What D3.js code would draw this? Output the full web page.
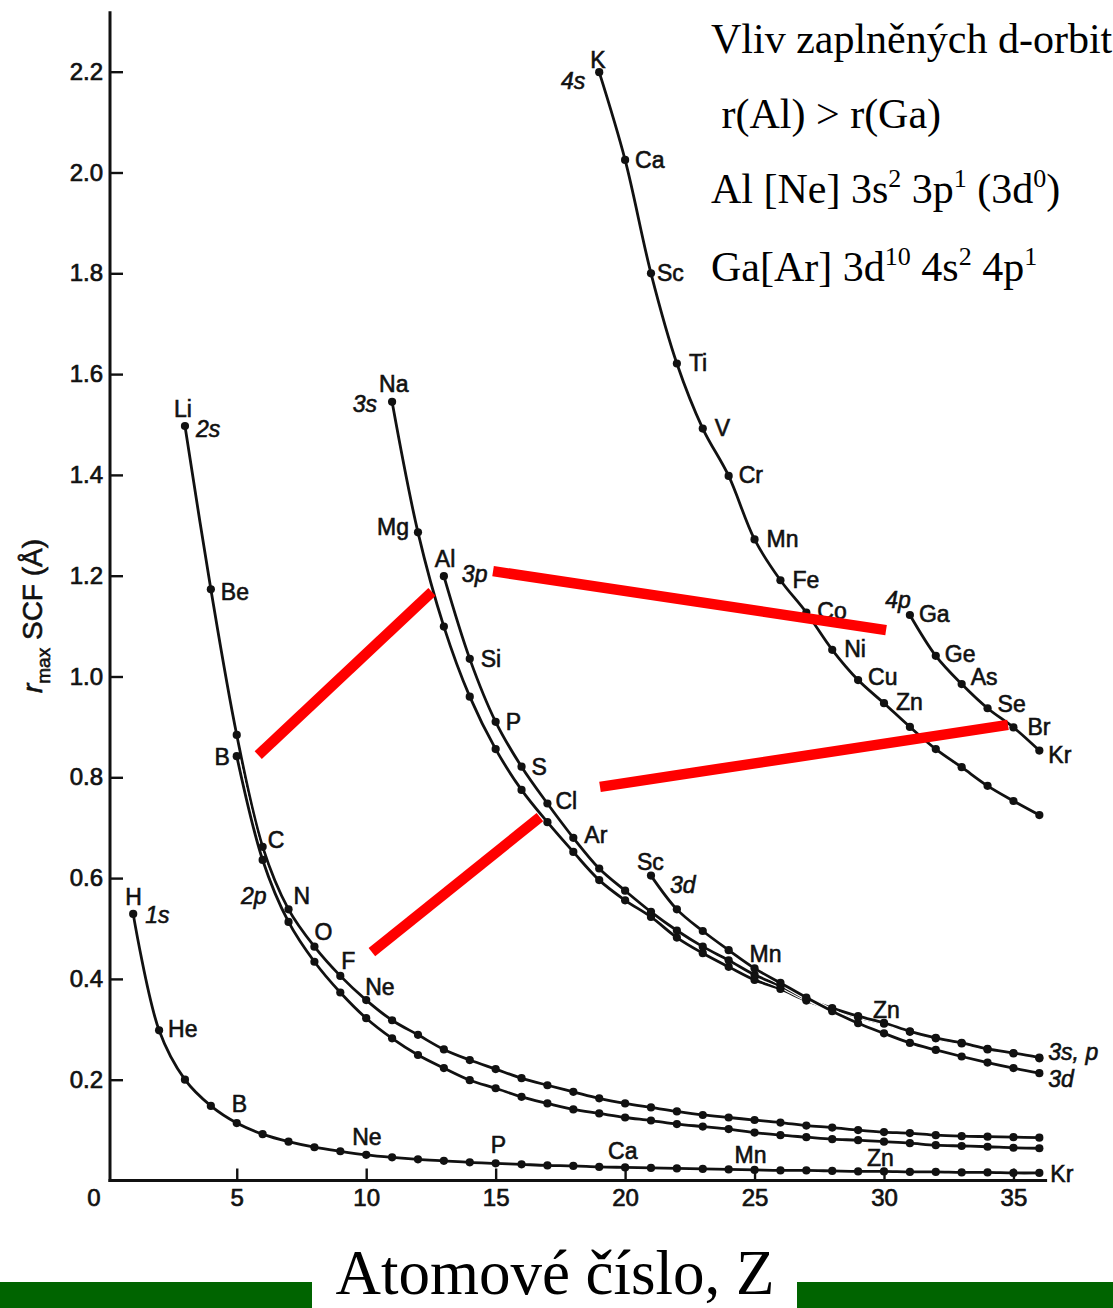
<!DOCTYPE html>
<html><head><meta charset="utf-8">
<script src="https://cdn.jsdelivr.net/npm/d3@7/dist/d3.min.js"></script>
<style>
body{margin:0;background:#fff}
svg{display:block}
.lab{font-family:"Liberation Sans",Arial,Helvetica,sans-serif;font-size:23px;fill:#111;stroke:#111;stroke-width:0.6px}
.tick text{font-family:"Liberation Sans",Arial,Helvetica,sans-serif;font-size:24px;fill:#111;stroke:#111;stroke-width:0.7px}
.serif{font-family:"Liberation Serif","Times New Roman",Times,serif;fill:#000}
</style>
</head><body>
<svg id="c" width="1113" height="1308"></svg>
<script>
// ---- data (r_max SCF in Å versus atomic number Z) ----
const start1s = 1;
const r1s = [0.529,0.298,0.200,0.148,0.114,0.092,0.077,0.066,0.058,0.051,0.046,0.042,0.039,0.036,0.034,0.032,0.030,0.029,0.027,0.026,0.025,0.024,0.023,0.022,0.021,0.020,0.020,0.019,0.018,0.018,0.017,0.017,0.016,0.016,0.015,0.015];
const start2s = 3;
const r2s = [1.497,1.173,0.884,0.662,0.538,0.464,0.406,0.358,0.318,0.289,0.260,0.239,0.221,0.203,0.189,0.176,0.163,0.153,0.145,0.137,0.130,0.125,0.120,0.115,0.109,0.105,0.100,0.096,0.094,0.090,0.088,0.087,0.086,0.085];
const start2p = 5;
const r2p = [0.842,0.636,0.513,0.434,0.373,0.322,0.282,0.249,0.223,0.199,0.183,0.166,0.153,0.141,0.133,0.125,0.119,0.112,0.107,0.102,0.095,0.090,0.086,0.082,0.080,0.077,0.074,0.070,0.0685,0.067,0.065,0.064];
const start3s = 11;
const r3s = [1.545,1.286,1.099,0.960,0.856,0.775,0.711,0.652,0.596,0.556,0.523,0.482,0.451,0.424,0.398,0.380,0.357,0.340,0.324,0.311,0.295,0.282,0.272,0.260,0.252,0.2425];
const start3p = 13;
const r3p = [1.199,1.035,0.910,0.821,0.748,0.680,0.619,0.575,0.533,0.496,0.464,0.437,0.408,0.386,0.360,0.342,0.326,0.313,0.296,0.283,0.273,0.261,0.253,0.244];
const start3d = 21;
const r3d = [0.605,0.538,0.495,0.457,0.421,0.392,0.363,0.336,0.312,0.292,0.273,0.259,0.246,0.234,0.223,0.213];
const start4s = 19;
const r4s = [2.199,2.025,1.800,1.621,1.492,1.398,1.272,1.191,1.127,1.053,0.993,0.947,0.900,0.856,0.820,0.783,0.753,0.725];
const start4p = 31;
const r4p = [1.122,1.041,0.985,0.937,0.899,0.853];

const xTicks = [0,5,10,15,20,25,30,35];
const xTickLabels = ["0","5","10","15","20","25","30","35"];
const yTicks = [0.2,0.4,0.6,0.8,1.0,1.2,1.4,1.6,1.8,2.0,2.2];
const yTickLabels = ["0.2","0.4","0.6","0.8","1.0","1.2","1.4","1.6","1.8","2.0","2.2"];

// annotation links (red bars), in data units
const redLinks = [
  {z1:5.83, r1:0.844, z2:12.54, r2:1.168},
  {z1:14.9, r1:1.209, z2:30.08, r2:1.092},
  {z1:10.22,r1:0.453, z2:16.71, r2:0.721},
  {z1:19.03,r1:0.781, z2:34.79, r2:0.904}
];

const infoLines = ["Vliv zaplněných d-orbitalů", " r(Al) > r(Ga)"];

// ---- layout ----
const svg = d3.select('#c');
const x = d3.scaleLinear().domain([0, 36.3]).range([107.3, 107.3 + 25.89*36.3]);
const y = d3.scaleLinear().domain([0, 2.32]).range([1180.5, 1180.5 - 504*2.32]);
const yAxisX = 110;

const series = [
  {k:'1s', start:start1s, v:r1s},
  {k:'2s', start:start2s, v:r2s},
  {k:'2p', start:start2p, v:r2p},
  {k:'3s', start:start3s, v:r3s},
  {k:'3p', start:start3p, v:r3p},
  {k:'3d', start:start3d, v:r3d},
  {k:'4s', start:start4s, v:r4s},
  {k:'4p', start:start4p, v:r4p}
].map(s => ({k:s.k, pts:s.v.map((r,i)=>({z:s.start+i, r:r}))}));
const byKey = {}; series.forEach(s => byKey[s.k] = s);

// axes
const gx = svg.append('g').attr('transform',`translate(0,${y(0)})`)
  .call(d3.axisBottom(x).tickValues(xTicks).tickFormat((d,i)=>xTickLabels[i]).tickSizeInner(-12).tickSizeOuter(0).tickPadding(8));
gx.select('.domain').remove();
gx.selectAll('.tick line').attr('stroke','#111').attr('stroke-width',2.4);
gx.selectAll('.tick').filter(d=>d===0).select('line').remove();
gx.selectAll('.tick').filter(d=>d===0).select('text').attr('dx',-14);

const gy = svg.append('g').attr('transform',`translate(${yAxisX},0)`)
  .call(d3.axisLeft(y).tickValues(yTicks).tickFormat((d,i)=>yTickLabels[i]).tickSizeInner(-13).tickSizeOuter(0).tickPadding(7));
gy.select('.domain').remove();
gy.selectAll('.tick line').attr('stroke','#111').attr('stroke-width',2.4);

svg.append('line').attr('x1',yAxisX).attr('x2',yAxisX).attr('y1',y(0)+1.5).attr('y2',y(2.32))
  .attr('stroke','#111').attr('stroke-width',3);
svg.append('line').attr('x1',yAxisX-1.5).attr('x2',x(36.3)).attr('y1',y(0)).attr('y2',y(0))
  .attr('stroke','#111').attr('stroke-width',3);

// y label
const yl = svg.append('text').attr('class','lab')
  .attr('transform',`translate(42,616) rotate(-90)`).attr('text-anchor','middle')
  .style('font-size','28px');
yl.append('tspan').text('r').style('font-style','italic');
yl.append('tspan').text('max').style('font-size','19px').attr('dy',8);
yl.append('tspan').text(' SCF (Å)').attr('dy',-8);

// curves
const line = d3.line().x(d=>x(d.z)).y(d=>y(d.r)).curve(d3.curveCatmullRom.alpha(0.5));
const gc = svg.append('g');
series.forEach(s => {
  gc.append('path').attr('d', line(s.pts)).attr('fill','none').attr('stroke','#fff').attr('stroke-width',5);
  gc.append('path').attr('d', line(s.pts)).attr('fill','none').attr('stroke','#111').attr('stroke-width',2.8);
});
series.forEach(s => {
  gc.selectAll(null).data(s.pts).enter().append('circle')
    .attr('cx',d=>x(d.z)).attr('cy',d=>y(d.r)).attr('r',4.1).attr('fill','#111');
});

// element / orbital labels: [text, series, Z, dx, dy, anchor, italic]
const labelLayout = [
  ['H','1s',1,-8,-9],['1s','1s',1,12,9,'start',1],['He','1s',2,9,7],['B','1s',5,-5,-11],['Ne','1s',10,-14,-10],
  ['P','1s',15,-5,-10],['Ca','1s',20,-17,-8],['Mn','1s',25,-20,-7],['Zn','1s',30,-17,-5],['Kr','1s',36,11,9],
  ['Li','2s',3,-11,-9],['2s','2s',3,11,11,'start',1],['Be','2s',4,10,11],['B','2p',5,-7,9,'end'],['C','2s',6,5,1],
  ['2p','2p',7,-22,-18,'end',1],['N','2s',7,5,-5],['O','2s',8,0,-7],['F','2s',9,1,-7],['Ne','2s',10,-1,-5],
  ['Na','3s',11,-13,-10],['3s','3s',11,-15,10,'end',1],['Mg','3s',12,-9,3,'end'],['Al','3p',13,-9,-9],['3p','3p',13,18,6,'start',1],
  ['Si','3p',14,11,8],['P','3p',15,10,8],['S','3p',16,10,8],['Cl','3p',17,8,5],['Ar','3p',18,11,5],
  ['Sc','3d',21,-14,-6],['3d','3d',21,19,17,'start',1],['Mn','3d',25,-5,-6],['Zn','3s',30,-11,-6],
  ['3s, p','3s',36,9,2,'start',1],['3d','3d',36,9,14,'start',1],
  ['K','4s',19,-9,-4],['4s','4s',19,-14,17,'end',1],['Ca','4s',20,10,8],['Sc','4s',21,6,8],['Ti','4s',22,12,7],
  ['V','4s',23,12,7],['Cr','4s',24,10,7],['Mn','4s',25,12,8],['Fe','4s',26,12,8],['Co','4s',27,11,7],
  ['Ni','4s',28,12,7],['Cu','4s',29,10,5],['Zn','4s',30,12,7],
  ['4p','4p',31,1,-7,'end',1],['Ga','4p',31,9,7],['Ge','4p',32,9,6],['As','4p',33,9,1],['Se','4p',34,10,4],
  ['Br','4p',35,14,8],['Kr','4p',36,9,12]
];
const gl = svg.append('g');
labelLayout.forEach(l => {
  const p = byKey[l[1]].pts.find(d=>d.z===l[2]);
  gl.append('text').attr('class','lab')
    .attr('x', x(p.z)+l[3]).attr('y', y(p.r)+l[4])
    .attr('text-anchor', l[5]||'start')
    .style('font-style', l[6] ? 'italic' : 'normal')
    .text(l[0]);
});

// red annotation bars
svg.append('g').selectAll('line').data(redLinks).enter().append('line')
  .attr('x1',d=>x(d.z1)).attr('y1',d=>y(d.r1)).attr('x2',d=>x(d.z2)).attr('y2',d=>y(d.r2))
  .attr('stroke','#ff0000').attr('stroke-width',10.5);

// info text (top right)
const gt = svg.append('g').attr('class','serif').style('font-size','42px');
gt.append('text').attr('x',711).attr('y',53).text(infoLines[0]);
gt.append('text').attr('x',711).attr('y',128).style('white-space','pre').text(infoLines[1]);
function cfg(yy, parts){
  const t = gt.append('text').attr('x',711).attr('y',yy).style('white-space','pre');
  parts.forEach(p => {
    if (p[1]) t.append('tspan').text(p[0]).style('font-size','26px').attr('dy',-16);
    else t.append('tspan').text(p[0]).attr('dy', p[2]||0);
  });
}
cfg(203, [['Al [Ne] 3s'],['2',1],[' 3p',0,16],['1',1],[' (3d',0,16],['0',1],[')',0,16]]);
cfg(281, [['Ga[Ar] 3d'],['10',1],[' 4s',0,16],['2',1],[' 4p',0,16],['1',1]]);

// bottom title with green bars
svg.append('rect').attr('x',0).attr('y',1282).attr('width',312).attr('height',26).attr('fill','#006400');
svg.append('rect').attr('x',797).attr('y',1282).attr('width',316).attr('height',26).attr('fill','#006400');
svg.append('text').attr('class','serif').attr('x',555).attr('y',1294).attr('text-anchor','middle')
  .style('font-size','63px').text('Atomové číslo, Z');
</script>
</body></html>
